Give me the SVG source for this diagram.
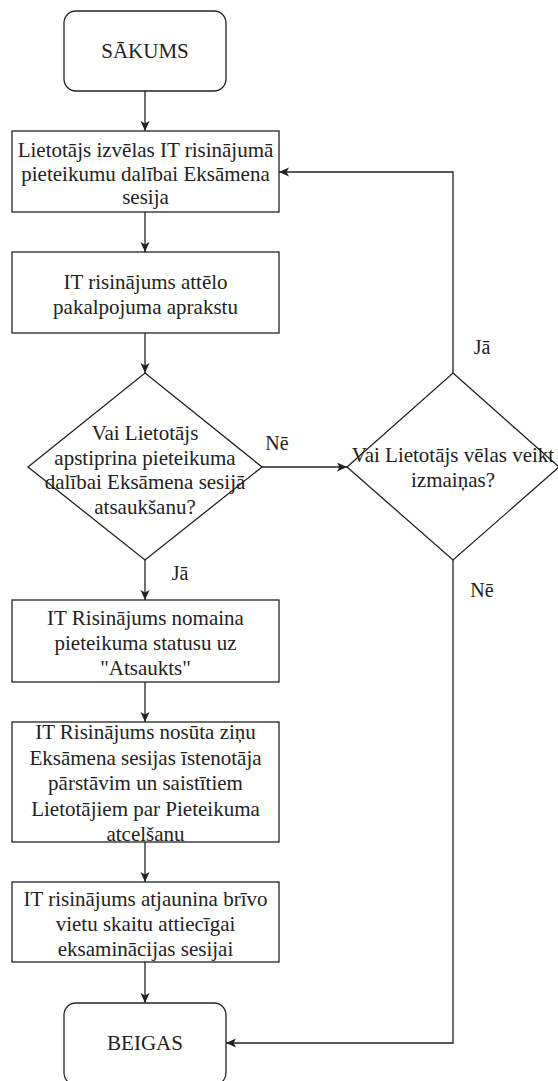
<svg xmlns="http://www.w3.org/2000/svg" width="558" height="1081" viewBox="0 0 558 1081">
<style>
.shape{fill:#fff;stroke:#222;stroke-width:1.3}
.t{font-size:21px;fill:#222;text-anchor:middle}
.lbl{font-size:20px;fill:#222;text-anchor:middle}
.c{fill:none;stroke:#222;stroke-width:1.3}
</style>
<defs>
<marker id="arr" markerWidth="12" markerHeight="10" refX="10" refY="4.5" orient="auto" markerUnits="userSpaceOnUse">
<path d="M0,0 L10,4.5 L0,9 L2.5,4.5 z" fill="#222"/>
</marker>
</defs>
<rect width="558" height="1081" fill="#fff"/>
<g font-family="Liberation Serif, Tinos, Noto Serif, DejaVu Serif, serif">
<g id="connectors">
<line class="c" x1="145" y1="91" x2="145" y2="131" marker-end="url(#arr)"/>
<line class="c" x1="145" y1="212" x2="145" y2="252" marker-end="url(#arr)"/>
<line class="c" x1="145" y1="333" x2="145" y2="373" marker-end="url(#arr)"/>
<line class="c" x1="145" y1="560" x2="145" y2="600" marker-end="url(#arr)"/>
<line class="c" x1="145" y1="682" x2="145" y2="722" marker-end="url(#arr)"/>
<line class="c" x1="145" y1="842" x2="145" y2="882" marker-end="url(#arr)"/>
<line class="c" x1="145" y1="962" x2="145" y2="1003" marker-end="url(#arr)"/>
<line class="c" x1="262" y1="467" x2="347" y2="467" marker-end="url(#arr)"/>
<polyline class="c" points="453,373 453,172 279,172" marker-end="url(#arr)"/>
<polyline class="c" points="453,560 453,1043 226,1043" marker-end="url(#arr)"/>
<text class="lbl" x="180" y="580">Jā</text>
<text class="lbl" x="277" y="450">Nē</text>
<text class="lbl" x="482" y="354">Jā</text>
<text class="lbl" x="482" y="597">Nē</text>
</g>
<g id="start">
<rect class="shape" x="64" y="11" width="162" height="80" rx="12"/>
<text class="t" x="145" y="58">SĀKUMS</text>
</g>
<g id="box1">
<rect class="shape" x="12" y="131" width="267" height="81"/>
<text class="t" x="145.5" y="157">Lietotājs izvēlas IT risinājumā</text>
<text class="t" x="145.5" y="180.5">pieteikumu dalībai Eksāmena</text>
<text class="t" x="145.5" y="204">sesija</text>
</g>
<g id="box2">
<rect class="shape" x="12" y="252" width="267" height="81"/>
<text class="t" x="145.5" y="289">IT risinājums attēlo</text>
<text class="t" x="145.5" y="314">pakalpojuma aprakstu</text>
</g>
<g id="decision1">
<polygon class="shape" points="145,373 262,467 145,560 28,467"/>
<text class="t" x="145" y="440">Vai Lietotājs</text>
<text class="t" x="145" y="464.5">apstiprina pieteikuma</text>
<text class="t" x="145" y="489">dalībai Eksāmena sesijā</text>
<text class="t" x="145" y="513.5">atsaukšanu?</text>
</g>
<g id="decision2">
<polygon class="shape" points="453,373 559,467 453,560 347,467"/>
<text class="t" x="453" y="462">Vai Lietotājs vēlas veikt</text>
<text class="t" x="453" y="487">izmaiņas?</text>
</g>
<g id="box3">
<rect class="shape" x="12" y="600" width="267" height="82"/>
<text class="t" x="145.5" y="625">IT Risinājums nomaina</text>
<text class="t" x="145.5" y="650">pieteikuma statusu uz</text>
<text class="t" x="145.5" y="675">"Atsaukts"</text>
</g>
<g id="box4">
<rect class="shape" x="12" y="722" width="267" height="120"/>
<text class="t" x="145.5" y="739">IT Risinājums nosūta ziņu</text>
<text class="t" x="145.5" y="764.5">Eksāmena sesijas īstenotāja</text>
<text class="t" x="145.5" y="790">pārstāvim un saistītiem</text>
<text class="t" x="145.5" y="815.5">Lietotājiem par Pieteikuma</text>
<text class="t" x="145.5" y="841">atcelšanu</text>
</g>
<g id="box5">
<rect class="shape" x="12" y="882" width="267" height="80"/>
<text class="t" x="145.5" y="906">IT risinājums atjaunina brīvo</text>
<text class="t" x="145.5" y="931">vietu skaitu attiecīgai</text>
<text class="t" x="145.5" y="956">eksaminācijas sesijai</text>
</g>
<g id="end">
<rect class="shape" x="64" y="1003" width="162" height="82" rx="12"/>
<text class="t" x="145" y="1050">BEIGAS</text>
</g>
</g>
</svg>
